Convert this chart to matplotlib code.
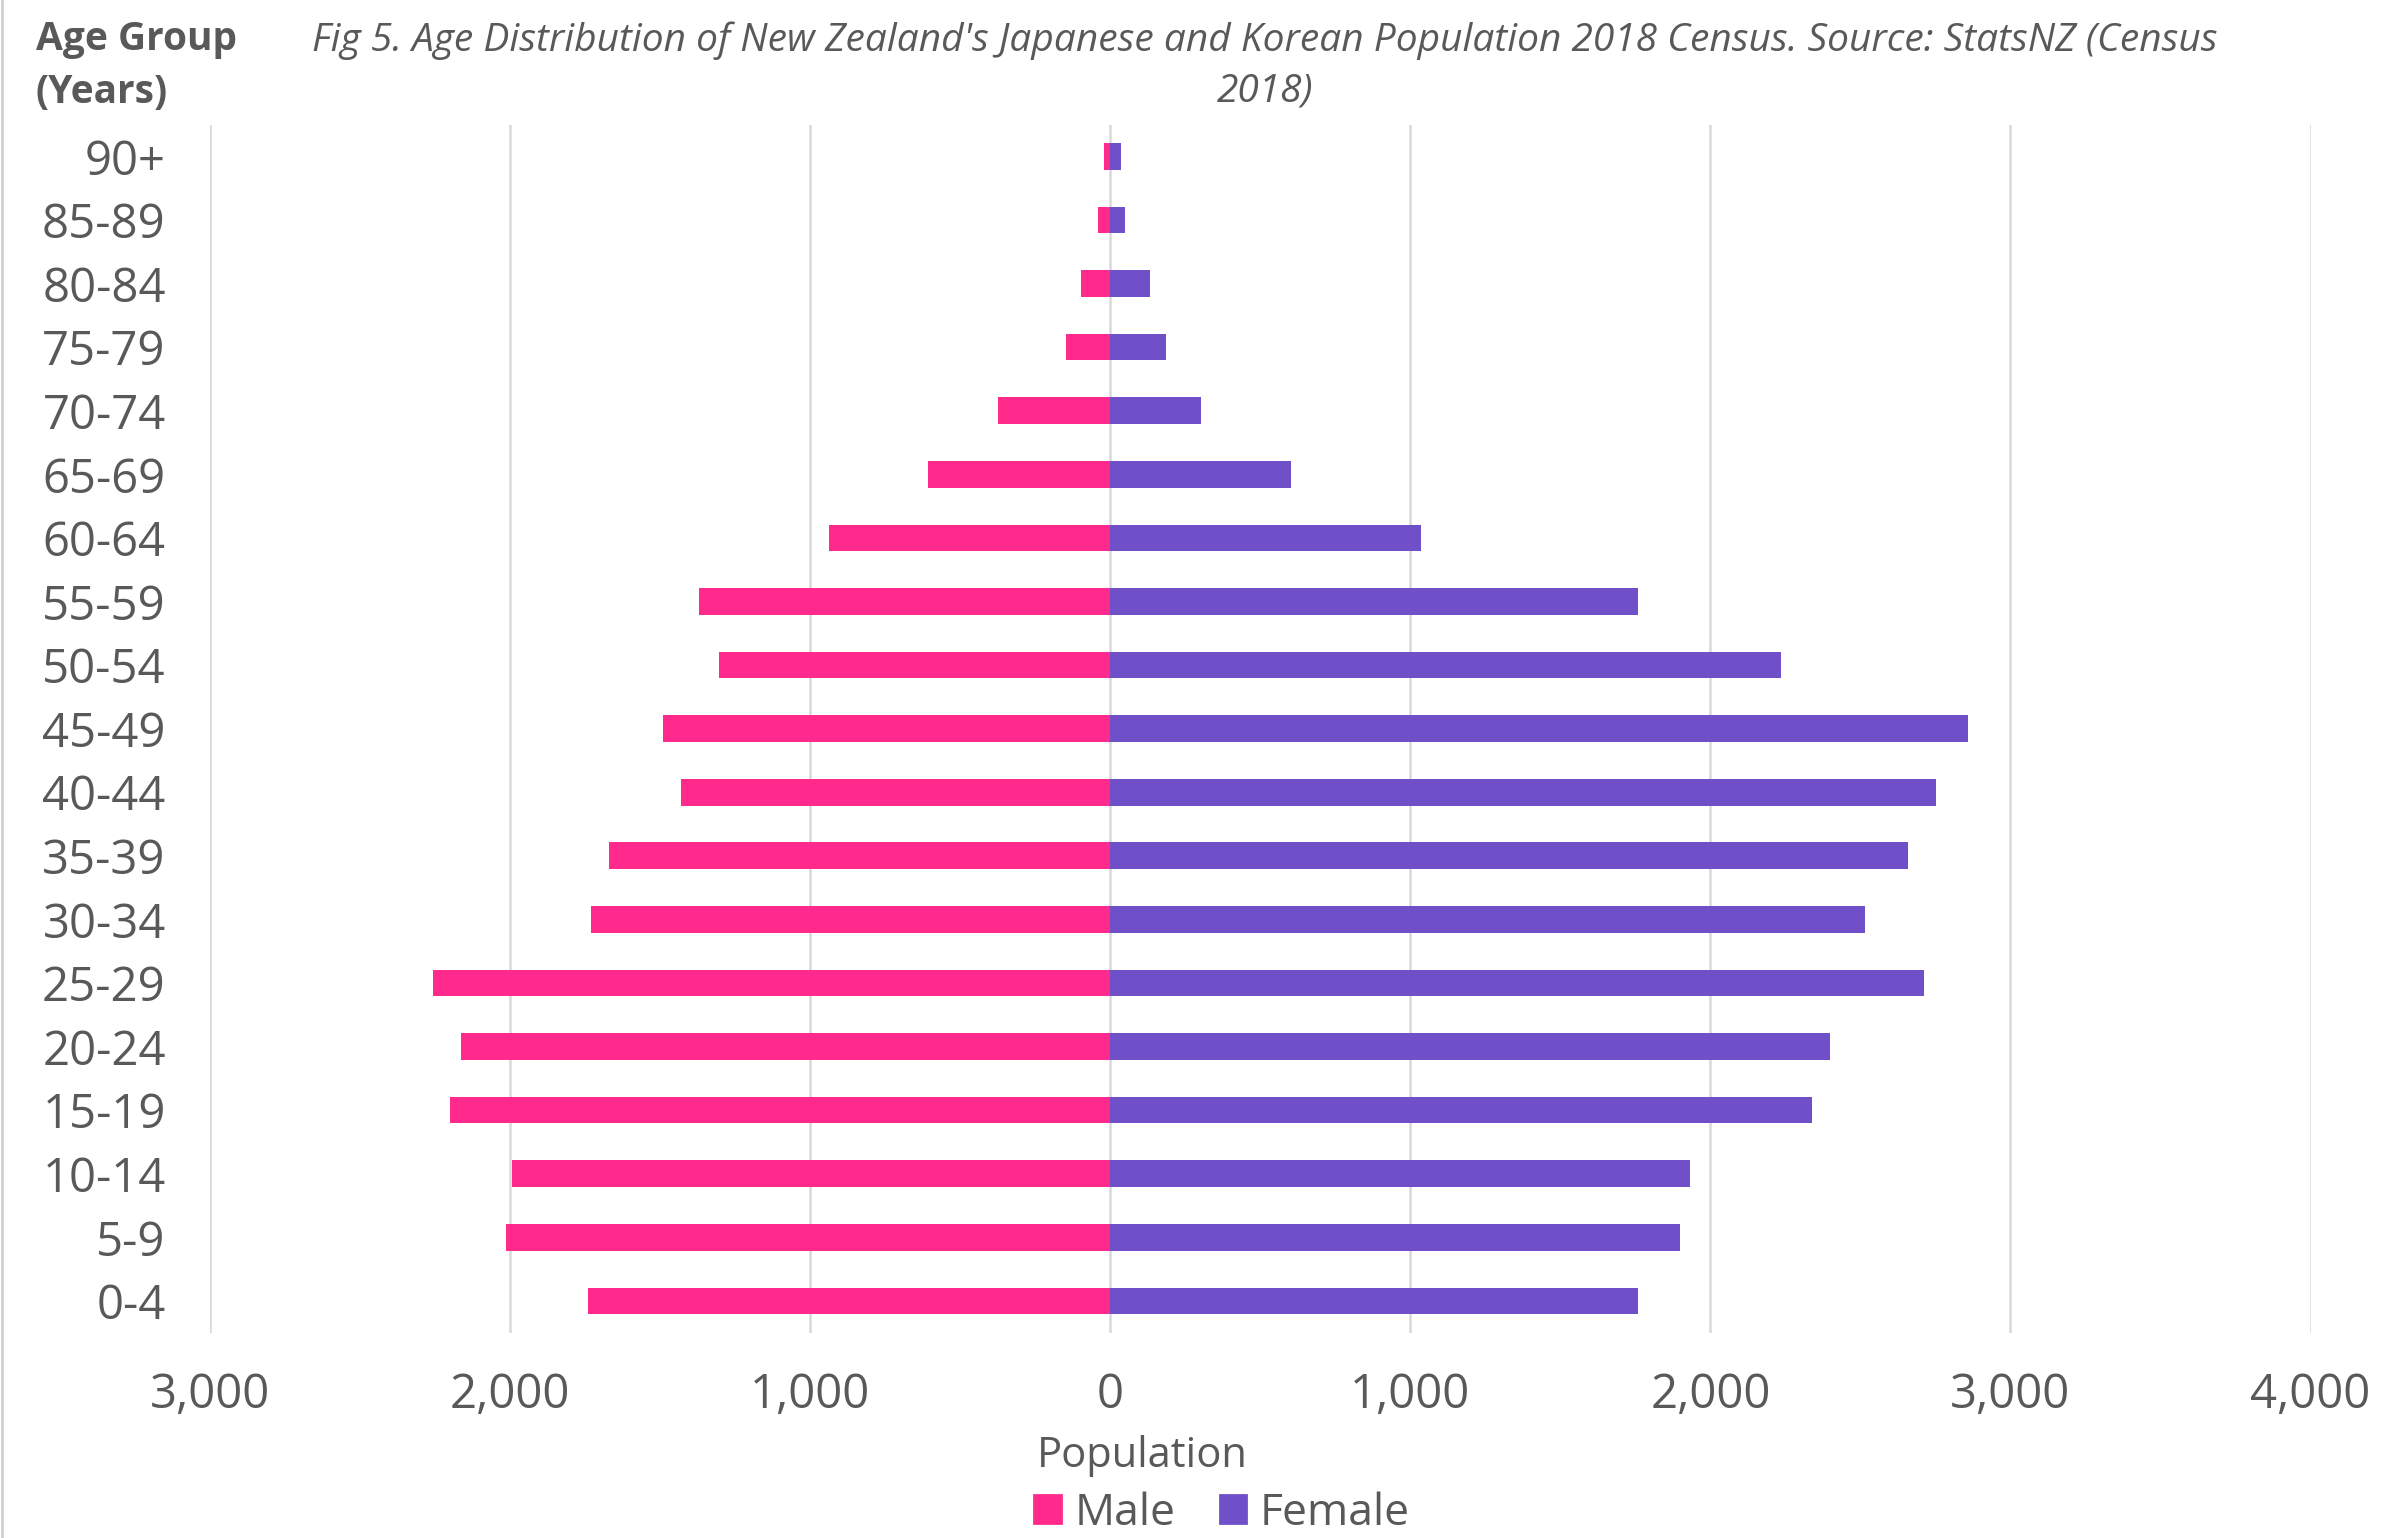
"""
Population pyramid: NZ Japanese and Korean population by age group, 2018 Census.
"""

import matplotlib
matplotlib.use("Agg")
import matplotlib.pyplot as plt
import matplotlib.ticker as mticker
from matplotlib.lines import Line2D
from matplotlib.patches import Patch

AGE_GROUPS = ["0-4", "5-9", "10-14", "15-19", "20-24", "25-29", "30-34", "35-39",
              "40-44", "45-49", "50-54", "55-59", "60-64", "65-69", "70-74",
              "75-79", "80-84", "85-89", "90+"]
MALE = [1740, 2013, 1993, 2200, 2165, 2256, 1730, 1669, 1431, 1492, 1305, 1371,
        936, 607, 374, 147, 96, 40, 20]
FEMALE = [1760, 1897, 1932, 2337, 2397, 2711, 2514, 2660, 2752, 2858, 2236, 1760,
          1037, 602, 303, 187, 131, 50, 35]
X_TICKS = [-3000, -2000, -1000, 0, 1000, 2000, 3000, 4000]

MALE_COLOR = "#FF2A8C"
FEMALE_COLOR = "#7050C8"
TEXT_COLOR = "#595959"
GRID_COLOR = "#D9D9D9"

plt.rcParams["font.family"] = ["Open Sans", "DejaVu Sans"]

DPI = 200
fig = plt.figure(figsize=(2382 / DPI, 1538 / DPI), dpi=DPI)
ax = fig.add_axes([0.0882, 0.1335, 0.9700 - 0.0882, 0.919 - 0.1335])

y = list(range(len(AGE_GROUPS)))
ax.barh(y, [-m for m in MALE], height=0.42, color=MALE_COLOR, zorder=3)
ax.barh(y, FEMALE, height=0.42, color=FEMALE_COLOR, zorder=3)

ax.set_xlim(-3000, 4000)
ax.set_ylim(-0.5, len(AGE_GROUPS) - 0.5)
ax.set_xticks(X_TICKS)
ax.xaxis.set_major_formatter(mticker.FuncFormatter(lambda v, p: f"{abs(int(v)):,}"))
ax.set_yticks(y)
ax.set_yticklabels(AGE_GROUPS)

ax.grid(axis="x", color=GRID_COLOR, linewidth=0.9, zorder=0)
ax.grid(axis="y", visible=False)
for s in ax.spines.values():
    s.set_visible(False)
ax.tick_params(axis="both", length=0, labelsize=17, colors=TEXT_COLOR)
ax.tick_params(axis="x", pad=14)
ax.tick_params(axis="y", pad=16)

ax.set_xlabel("Population", fontsize=15, color=TEXT_COLOR)
ax.xaxis.set_label_coords(0.444, -0.085)

fig.text(0.531, 0.957,
         "Fig 5. Age Distribution of New Zealand's Japanese and Korean Population 2018 Census. Source: StatsNZ (Census\n2018)",
         ha="center", va="center", fontsize=14, style="italic", color=TEXT_COLOR,
         linespacing=1.45)
fig.text(0.015, 0.957, "Age Group\n(Years)", ha="left", va="center", fontsize=14,
         fontweight="bold", color=TEXT_COLOR, linespacing=1.45)

# thin frame edge on the left, as in the source image
fig.add_artist(Line2D([0.0008, 0.0008], [0, 1], transform=fig.transFigure,
                      color="#D0D0D0", linewidth=1.0))

handles = [Patch(color=MALE_COLOR, label="Male"), Patch(color=FEMALE_COLOR, label="Female")]
fig.legend(handles=handles, loc="center", bbox_to_anchor=(0.513, 0.016), ncol=2,
           frameon=False, fontsize=16, handlelength=0.6, handleheight=0.6,
           handletextpad=0.3, columnspacing=1.0, labelcolor=TEXT_COLOR)

fig.savefig("out.png", dpi=DPI, facecolor="white")
